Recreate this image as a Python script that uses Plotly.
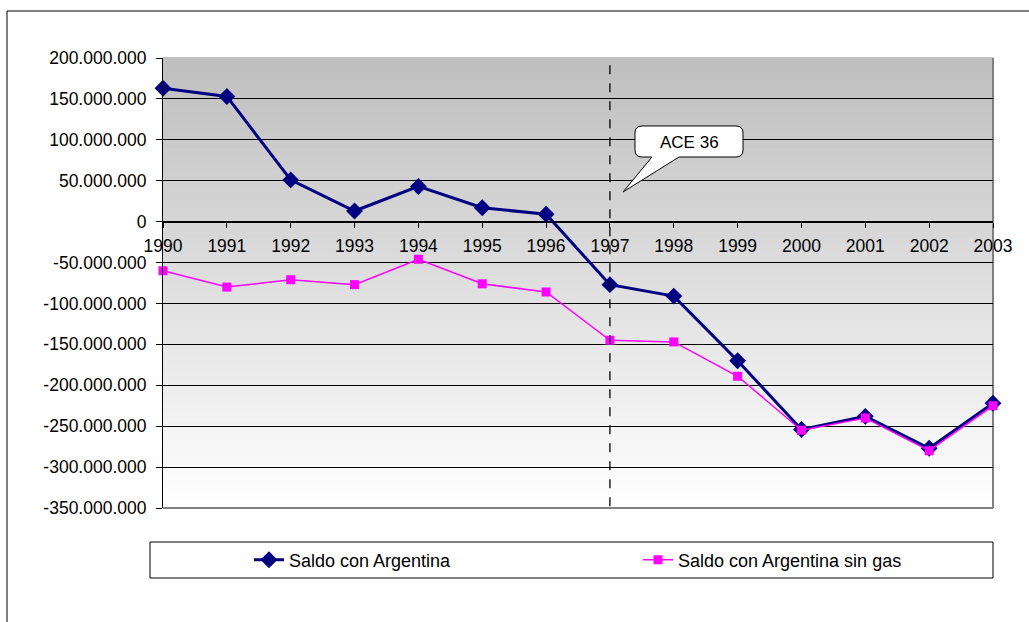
import plotly.graph_objects as go

# ---------------- data ----------------
years = [1990, 1991, 1992, 1993, 1994, 1995, 1996, 1997, 1998, 1999, 2000, 2001, 2002, 2003]
saldo = [163e6, 153e6, 51e6, 13e6, 43e6, 17e6, 9e6, -77e6, -91e6, -170e6, -254e6, -238e6, -277e6, -222e6]
saldo_sin_gas = [-60e6, -80e6, -71e6, -77e6, -46e6, -76e6, -86e6, -145e6, -147e6, -189e6, -255e6, -240e6, -280e6, -225e6]
y_tick_vals = [200e6, 150e6, 100e6, 50e6, 0, -50e6, -100e6, -150e6, -200e6, -250e6, -300e6, -350e6]
y_tick_text = ["200.000.000", "150.000.000", "100.000.000", "50.000.000", "0",
               "-50.000.000", "-100.000.000", "-150.000.000", "-200.000.000",
               "-250.000.000", "-300.000.000", "-350.000.000"]
name_1 = "Saldo con Argentina"
name_2 = "Saldo con Argentina sin gas"
marker_year = 1997
callout_text = "ACE 36"

# ---------------- layout geometry (pixels) ----------------
W, H = 1029, 622
PL, PR, PT, PB = 163, 993, 58, 508
y_min, y_max = -350e6, 200e6
FONT = "Liberation Sans, Arial, sans-serif"


def px_x(px):
    return (px - PL) / (PR - PL)


def px_y(py):
    return (PB - py) / (PB - PT)


fig = go.Figure()

fig.add_trace(go.Scatter(
    x=years, y=saldo, name=name_1, mode="lines+markers",
    line=dict(color="#000080", width=3),
    marker=dict(symbol="diamond", size=13, color="#000080"),
    legend="legend", cliponaxis=False,
))
fig.add_trace(go.Scatter(
    x=years, y=saldo_sin_gas, name=name_2, mode="lines+markers",
    line=dict(color="#FF00FF", width=1.5),
    marker=dict(symbol="square", size=9, color="#FF00FF"),
    legend="legend2", cliponaxis=False,
))

shapes = []
# gradient background (gray top -> white bottom)
n = 60
top_c, bot_c = 190, 255
for i in range(n):
    f = (i + 0.5) / n  # fraction from bottom
    c = int(round(bot_c + (top_c - bot_c) * f))
    shapes.append(dict(type="rect", xref="paper", yref="paper",
                       x0=0, x1=1, y0=i / n, y1=(i + 1) / n + 0.002,
                       fillcolor=f"rgb({c},{c},{c})", line=dict(width=0), layer="below"))

# gray right / bottom border of plot area
shapes.append(dict(type="line", xref="paper", yref="paper", x0=1, x1=1, y0=0, y1=1,
                   line=dict(color="#808080", width=2), layer="below"))
shapes.append(dict(type="line", xref="paper", yref="paper", x0=0, x1=1, y0=0, y1=0,
                   line=dict(color="#808080", width=2), layer="below"))

# dashed vertical at 1997
shapes.append(dict(type="line", xref="x", yref="y", x0=marker_year, x1=marker_year,
                   y0=191e6, y1=y_min, line=dict(color="black", width=1.3, dash="dash")))

# callout bubble (pixel geometry)
bx0, bx1, by0, by1, r = 635, 743, 126, 157, 7
tail_a, tail_b, tip = (652, 157), (679, 157), (623, 192)


def P(px, py):
    return f"{px_x(px):.5f},{px_y(py):.5f}"


path = (f"M {P(bx0 + r, by0)} L {P(bx1 - r, by0)} Q {P(bx1, by0)} {P(bx1, by0 + r)} "
        f"L {P(bx1, by1 - r)} Q {P(bx1, by1)} {P(bx1 - r, by1)} "
        f"L {P(*tail_b)} L {P(*tip)} L {P(*tail_a)} "
        f"L {P(bx0 + r, by1)} Q {P(bx0, by1)} {P(bx0, by1 - r)} "
        f"L {P(bx0, by0 + r)} Q {P(bx0, by0)} {P(bx0 + r, by0)} Z")
shapes.append(dict(type="path", xref="paper", yref="paper", path=path,
                   fillcolor="white", line=dict(color="black", width=1)))

# legend box
shapes.append(dict(type="rect", xref="paper", yref="paper",
                   x0=px_x(150), x1=px_x(993), y0=px_y(578), y1=px_y(542),
                   fillcolor="white", line=dict(color="black", width=1), layer="below"))

# outer chart border
shapes.append(dict(type="rect", xref="paper", yref="paper",
                   x0=px_x(7), x1=px_x(1060), y0=px_y(660), y1=px_y(11),
                   fillcolor="rgba(0,0,0,0)", line=dict(color="black", width=1)))

annotations = [dict(text=callout_text, xref="paper", yref="paper",
                    x=px_x(689), y=px_y(142), xanchor="center", yanchor="middle",
                    showarrow=False,
                    font=dict(family=FONT, size=17, color="black"))]

leg_common = dict(orientation="h", xanchor="left", yanchor="middle", y=px_y(560),
                  font=dict(family=FONT, size=18, color="black"),
                  bgcolor="rgba(0,0,0,0)", borderwidth=0)

fig.update_layout(
    width=W, height=H,
    margin=dict(l=PL, r=W - PR, t=PT, b=H - PB, pad=0),
    paper_bgcolor="white", plot_bgcolor="white",
    font=dict(family=FONT, size=17, color="black"),
    showlegend=True,
    legend=dict(x=px_x(249), **leg_common),
    legend2=dict(x=px_x(638), **leg_common),
    shapes=shapes,
    annotations=annotations,
    hovermode=False,
)

fig.update_xaxes(
    range=[years[0], years[-1]], tickvals=years, ticktext=[str(y) for y in years],
    anchor="free", position=(0 - y_min) / (y_max - y_min),
    showline=True, linecolor="black", linewidth=1,
    ticks="outside", ticklen=5, tickcolor="black", tickwidth=1,
    ticklabelstandoff=3,
    showgrid=False, zeroline=False,
    tickfont=dict(family=FONT, size=17.5, color="black"),
)
fig.update_yaxes(
    range=[y_min, y_max], tickvals=y_tick_vals, ticktext=y_tick_text,
    showline=True, linecolor="black", linewidth=1,
    ticks="outside", ticklen=6, tickcolor="black", tickwidth=1,
    ticklabelstandoff=6,
    showgrid=True, gridcolor="black", gridwidth=1, zeroline=False,
    tickfont=dict(family=FONT, size=17.5, color="black"),
)

fig.write_html("out.html",
               config={"displayModeBar": False},
               post_script="document.body.style.margin='0';document.body.style.overflow='hidden';")
